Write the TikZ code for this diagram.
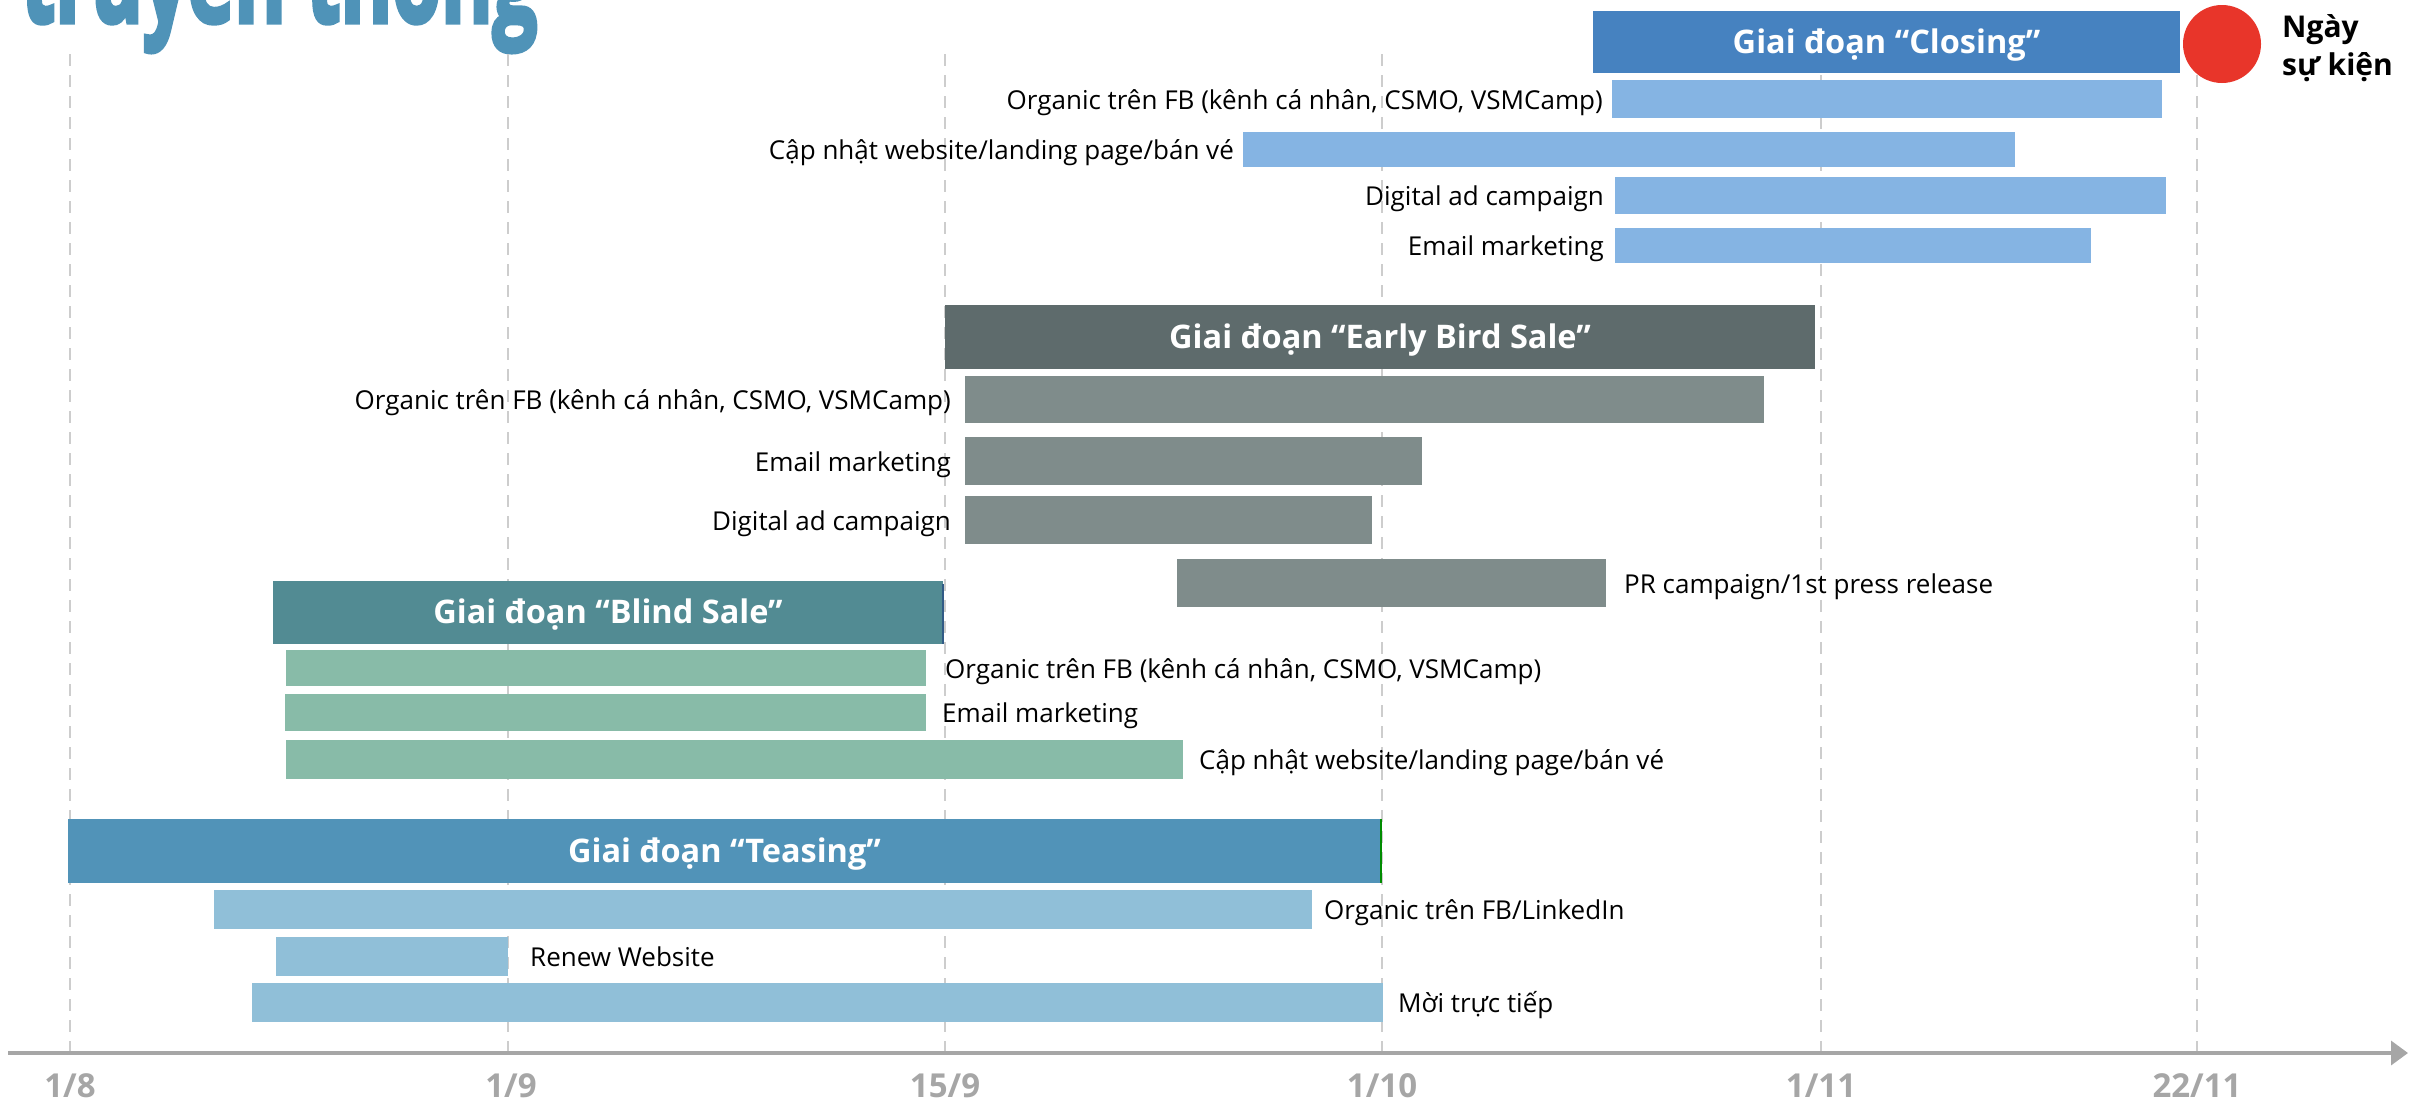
\documentclass[tikz,border=0pt]{standalone}
\usepackage{fontspec}
\setmainfont{Open Sans}
\newfontfamily\titlefont[BoldFeatures={FakeBold=4}]{Open Sans}
\usetikzlibrary{arrows.meta,fit}
\definecolor{titleblue}{HTML}{4F93B8}
\definecolor{closehead}{HTML}{4682C0}
\definecolor{closebar}{HTML}{85B4E3}
\definecolor{earlyhead}{HTML}{5E6B6C}
\definecolor{earlybar}{HTML}{7F8C8B}
\definecolor{blindhead}{HTML}{528B93}
\definecolor{blindbar}{HTML}{88BBA8}
\definecolor{teasehead}{HTML}{5193B8}
\definecolor{teasebar}{HTML}{90BFD8}
\definecolor{eventred}{HTML}{E8352A}
\definecolor{gridgray}{HTML}{CDCDCD}
\definecolor{axisgray}{HTML}{A6A6A6}
\tikzset{
  gridline/.style={draw=gridgray, line width=2pt, dash pattern=on 12pt off 9pt},
  box/.style={inner sep=0pt, outer sep=0pt, draw=none},
  headtxt/.style={inner sep=0pt, text=white, font=\fontsize{32.5}{38}\selectfont\bfseries},
  lbl/.style={inner sep=0pt, font=\fontsize{26}{30}\selectfont, text=black},
  datelbl/.style={inner sep=0pt, font=\fontsize{33}{38}\selectfont\bfseries, text=axisgray},
  axisline/.style={draw=axisgray, line width=3.5pt, -{Triangle[length=17pt,width=24pt]}},
}
\begin{document}
\begin{tikzpicture}[x=1pt,y=-1pt]
\useasboundingbox (0,0) rectangle (2428,1103);
\clip (0,0) rectangle (2428,1103);

% title (cut off at top)
\node[anchor=base west, inner sep=0pt, text=titleblue, font=\titlefont\fontsize{125}{130}\selectfont\bfseries] (title) at (21,22) {\scalebox{0.63}[1]{truyền thông}};

% grid lines
\foreach \x in {70,508,945,1382,1821,2197}
  \draw[gridline] (\x,54) -- (\x,1053);

% axis
\coordinate (ax0) at (8,1053);
\coordinate (ax1) at (2408,1053);
\draw[axisline] (ax0) -- (ax1);
\node[datelbl] (d1) at (70,1086) {1/8};
\node[datelbl] (d2) at (511,1086) {1/9};
\node[datelbl] (d3) at (945,1086) {15/9};
\node[datelbl] (d4) at (1382,1086) {1/10};
\node[datelbl] (d5) at (1821,1086) {1/11};
\node[datelbl] (d6) at (2197,1086) {22/11};

% ---- Closing
\node[box, fill=closehead, fit={(1593,11) (2180,73)}] (ch) {};
\node[headtxt, anchor=base] (cht) at ([yshift=-11pt]ch.center) {Giai đoạn “Closing”};
\node[circle, fill=eventred, minimum size=78pt, inner sep=0pt] (ev) at (2222,44) {};
\node[anchor=base west, inner sep=0pt, font=\fontsize{30}{36}\selectfont\bfseries] (ev1) at (2282,37) {Ngày};
\node[anchor=base west, inner sep=0pt, font=\fontsize{30}{36}\selectfont\bfseries] (ev2) at (2282,75) {sự kiện};

\node[box, fill=closebar, fit={(1612,80) (2162,118)}] (c1) {};
\node[box, fill=closebar, fit={(1243,132) (2015,167)}] (c2) {};
\node[box, fill=closebar, fit={(1615,177) (2166,214)}] (c3) {};
\node[box, fill=closebar, fit={(1615,228) (2091,263)}] (c4) {};
\node[lbl, anchor=base east] (c1l) at ([xshift=-9pt,yshift=-10pt]c1.west) {Organic trên FB (kênh cá nhân, CSMO, VSMCamp)};
\node[lbl, anchor=base east] (c2l) at ([xshift=-9pt,yshift=-10pt]c2.west) {Cập nhật website/landing page/bán vé};
\node[lbl, anchor=base east] (c3l) at ([xshift=-11pt,yshift=-10pt]c3.west) {Digital ad campaign};
\node[lbl, anchor=base east] (c4l) at ([xshift=-11pt,yshift=-10pt]c4.west) {Email marketing};

% ---- Early Bird
\node[box, fill=earlyhead, fit={(945,305) (1815,369)}] (eh) {};
\node[headtxt, anchor=base] (eht) at ([yshift=-11pt]eh.center) {Giai đoạn “Early Bird Sale”};
\node[box, fill=earlybar, fit={(965,376) (1764,423)}] (e1) {};
\node[box, fill=earlybar, fit={(965,437) (1422,485)}] (e2) {};
\node[box, fill=earlybar, fit={(965,496) (1372,544)}] (e3) {};
\node[box, fill=earlybar, fit={(1177,559) (1606,607)}] (e4) {};
\node[lbl, anchor=base east] (e1l) at ([xshift=-14pt,yshift=-10pt]e1.west) {Organic trên FB (kênh cá nhân, CSMO, VSMCamp)};
\node[lbl, anchor=base east] (e2l) at ([xshift=-14pt,yshift=-10pt]e2.west) {Email marketing};
\node[lbl, anchor=base east] (e3l) at ([xshift=-14pt,yshift=-10pt]e3.west) {Digital ad campaign};
\node[lbl, anchor=base west] (e4l) at ([xshift=18pt,yshift=-10pt]e4.east) {PR campaign/1st press release};

% ---- Blind Sale
\node[box, fill=blindhead, fit={(273,581) (943,644)}] (bh) {};
\node[headtxt, anchor=base] (bht) at ([yshift=-11pt]bh.center) {Giai đoạn “Blind Sale”};
\draw[draw=closehead!70!black, line width=2pt] ([yshift=-3pt]bh.north east) -- (bh.south east);
\node[box, fill=blindbar, fit={(286,650) (926,686)}] (b1) {};
\node[box, fill=blindbar, fit={(285,694) (926,731)}] (b2) {};
\node[box, fill=blindbar, fit={(286,740) (1183,779)}] (b3) {};
\node[lbl, anchor=base west] (b1l) at ([xshift=19pt,yshift=-10pt]b1.east) {Organic trên FB (kênh cá nhân, CSMO, VSMCamp)};
\node[lbl, anchor=base west] (b2l) at ([xshift=16pt,yshift=-10pt]b2.east) {Email marketing};
\node[lbl, anchor=base west] (b3l) at ([xshift=16pt,yshift=-10pt]b3.east) {Cập nhật website/landing page/bán vé};

% ---- Teasing
\node[box, fill=teasehead, fit={(68,819) (1381,883)}] (th) {};
\node[headtxt, anchor=base] (tht) at ([yshift=-11pt]th.center) {Giai đoạn “Teasing”};
\draw[draw=green!55!black, line width=1.5pt] (th.north east) -- (th.south east);
\node[box, fill=teasebar, fit={(214,890) (1312,929)}] (t1) {};
\node[box, fill=teasebar, fit={(276,937) (508,976)}] (t2) {};
\node[box, fill=teasebar, fit={(252,983) (1383,1022)}] (t3) {};
\node[lbl, anchor=base west] (t1l) at ([xshift=12pt,yshift=-10pt]t1.east) {Organic trên FB/LinkedIn};
\node[lbl, anchor=base west] (t2l) at ([xshift=22pt,yshift=-10pt]t2.east) {Renew Website};
\node[lbl, anchor=base west] (t3l) at ([xshift=15pt,yshift=-10pt]t3.east) {Mời trực tiếp};
\end{tikzpicture}
\end{document}
